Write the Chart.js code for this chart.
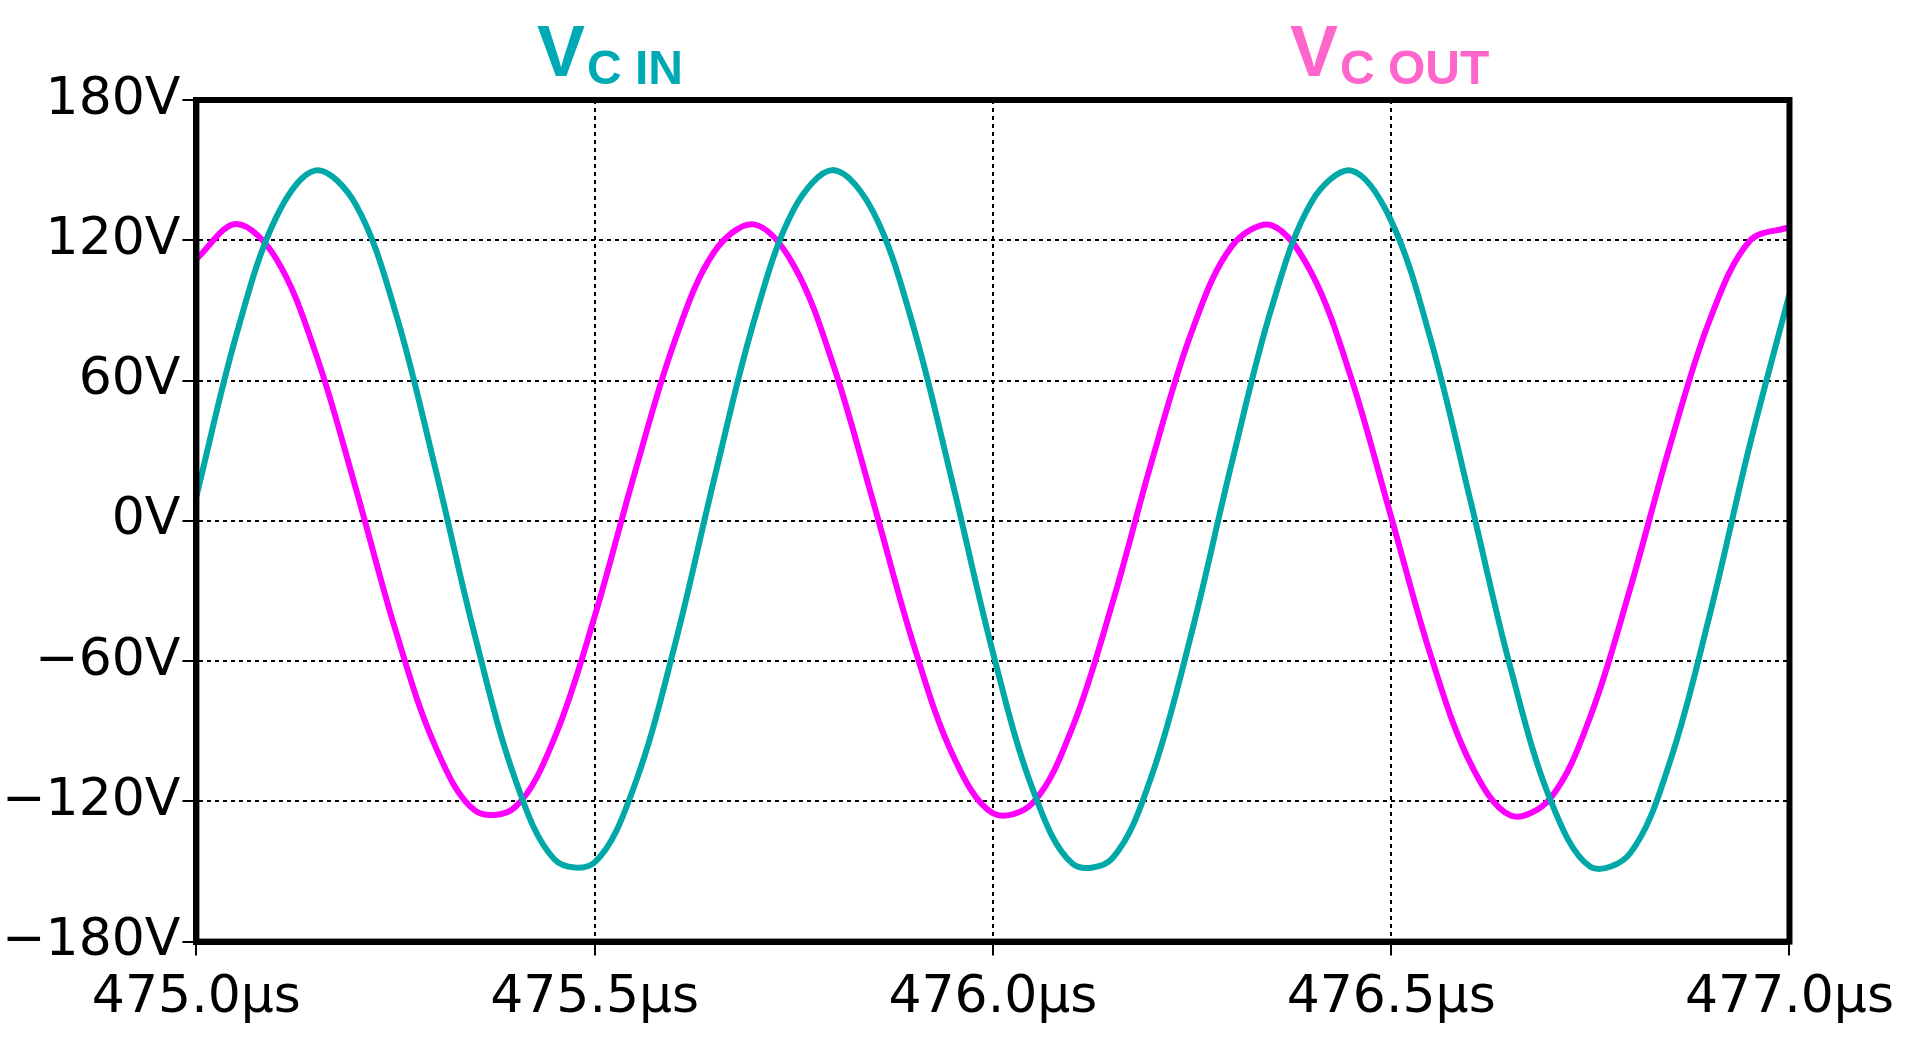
<!DOCTYPE html>
<html><head><meta charset="utf-8">
<script src="https://cdn.jsdelivr.net/npm/chart.js@4"></script>
<style>html,body{margin:0;background:#fff}#w{width:1906px;height:1052px}</style>
</head><body><div id="w"><canvas id="c"></canvas></div>
<script>
const times=[];for(let k=0;k<=40;k++)times.push(475+k*0.05);
const vcIn=[10.5,79.3,129.7,149.9,135.3,89.2,22.4,-49.6,-110.3,-145.0,-146.1,-113.2,-54.0,17.8,85.4,133.2,150.0,131.9,83.2,15.2,-56.4,-114.9,-146.7,-144.3,-108.3,-47.1,25.0,91.3,136.4,149.8,128.3,77.0,7.9,-63.2,-119.5,-148.0,-142.2,-103.0,-40.1,32.2,97.0];
const vcOut=[112,127,112.2,71.4,14.0,-46.8,-96.5,-124.0,-122.5,-92.5,-40.9,20.1,76.4,115.0,126.8,109.2,66.2,7.8,-52.5,-100.5,-125.1,-120.7,-88.2,-35.2,26.2,81.3,117.5,126.4,105.9,60.8,1.6,-58.0,-104.1,-126.1,-118.6,-83.7,-29.0,32.2,86.0,119.7,125.6];
const yTicks=[-180,-120,-60,0,60,120,180];
const xTicks=[475.0,475.5,476.0,476.5,477.0];
const pts=a=>a.map((v,i)=>({x:times[i],y:v}));
const titles={id:'titles',afterDraw(ch){const c=ch.ctx;c.save();c.textBaseline='alphabetic';
 const draw=(x,col,sub)=>{c.fillStyle=col;c.font='bold 72px "Liberation Sans"';c.fillText('V',x,76);const w=c.measureText('V').width;c.font='bold 48px "Liberation Sans"';c.fillText(sub,x+w+2,84);};
 draw(537,'#00AAB4','C IN');draw(1290,'#FF66CC','C OUT');c.restore();}};
new Chart(document.getElementById('c'),{type:'line',
 data:{datasets:[
  {data:pts(vcIn),borderColor:'#00A8A8',borderWidth:6,pointRadius:0,tension:0.35},
  {data:pts(vcOut),borderColor:'#FF00FF',borderWidth:6,pointRadius:0,tension:0.35}]},
 options:{responsive:true,maintainAspectRatio:false,animation:false,
  layout:{padding:{top:100,right:60,left:0,bottom:10}},
  plugins:{legend:{display:false},tooltip:{enabled:false}},
  scales:{
   x:{type:'linear',min:475,max:477,afterBuildTicks:a=>{a.ticks=xTicks.map(v=>({value:v}))},
    grid:{color:'#000',lineWidth:2,tickLength:14,tickColor:'#000'},border:{color:'#000',width:6,dash:[4,4]},
    ticks:{color:'#000',font:{family:'DejaVu Sans',size:52},maxRotation:0,callback:v=>v.toFixed(1)+'µs',padding:12}},
   y:{min:-180,max:180,afterBuildTicks:a=>{a.ticks=yTicks.map(v=>({value:v}))},
    grid:{color:'#000',lineWidth:2,tickLength:14,tickColor:'#000'},border:{color:'#000',width:6,dash:[4,4]},
    ticks:{color:'#000',font:{family:'DejaVu Sans',size:52},callback:v=>(v<0?'−'+(-v):v)+'V',padding:2}}}},
 plugins:[titles,{id:'frame',afterDraw(ch){const a=ch.chartArea,c=ch.ctx;c.save();c.strokeStyle='#000';c.lineWidth=6;c.strokeRect(a.left,a.top,a.right-a.left,a.bottom-a.top);c.restore();}}]});
</script></body></html>
